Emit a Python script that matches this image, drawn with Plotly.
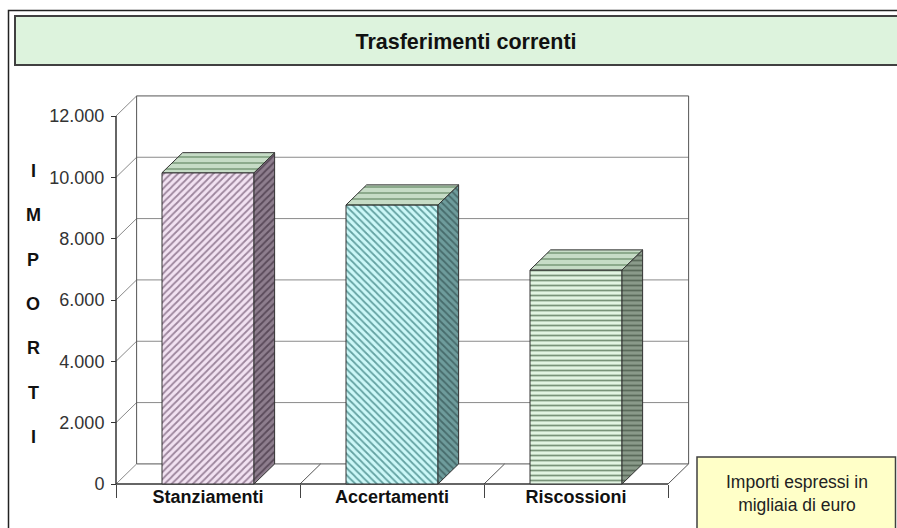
import plotly.graph_objects as go

# ---------------- data ----------------
categories = ["Stanziamenti", "Accertamenti", "Riscossioni"]
values = [10150, 9100, 6980]
y_ticks = [0, 2000, 4000, 6000, 8000, 10000, 12000]
y_title_letters = ["I", "M", "P", "O", "R", "T", "I"]
title_text = "Trasferimenti correnti"
note_lines = ["Importi espressi in", "migliaia di euro"]

# ---------------- styles ----------------
FONT = "Liberation Sans, Arial, sans-serif"
front_styles = [
    dict(shape="/", bg="#F2E2F2", fg="#9C859C"),
    dict(shape="\\", bg="#CCF8F8", fg="#64A2A2"),
    dict(shape="-", bg="#E2F4E2", fg="#7A947A"),
]
side_styles = [
    dict(shape="/", bg="#8E7E8E", fg="#5A4A5A"),
    dict(shape="\\", bg="#6E9C9C", fg="#476B6B"),
    dict(shape="-", bg="#8A9A8A", fg="#5A6A5A"),
]
top_style = dict(shape="-", bg="#C6DCC6", fg="#86A486")
EDGE = "#333333"
GRID = "#8A8A8A"

W, H = 897, 528
# everything below in screen pixel coordinates
AREA_L, AREA_R, AREA_T, AREA_B = 108, 698, 88, 492
X0PX, SX = 116, 184.0            # px of x=-0.5, px per category
Y0PX, SY = 484, 61.33 / 2000.0   # px of y=0, px per unit
BW = 0.5
DX, DY = 0.112, 655
YMAX = y_ticks[-1]

x_range = [-0.5 - (X0PX - AREA_L) / SX, -0.5 + (AREA_R - X0PX) / SX]
y_range = [-(AREA_B - Y0PX) / SY, (Y0PX - AREA_T) / SY]


def px_x(px):
    return (px - AREA_L) / (AREA_R - AREA_L)


def px_y(py):
    return (AREA_B - py) / (AREA_B - AREA_T)


fig = go.Figure()

# front faces
for i, (cat, v) in enumerate(zip(categories, values)):
    st = front_styles[i]
    fig.add_trace(go.Bar(
        x=[i], y=[v], width=BW, showlegend=False, hoverinfo="skip",
        marker=dict(color=st["bg"], line=dict(color=EDGE, width=1),
                    pattern=dict(shape=st["shape"], fgcolor=st["fg"], bgcolor=st["bg"],
                                 size=5, solidity=0.35, fillmode="replace")),
    ))

# side faces and top faces
for i, v in enumerate(values):
    st = side_styles[i]
    xr = i + BW / 2
    fig.add_trace(go.Scatter(
        x=[xr, xr + DX, xr + DX, xr, xr], y=[0, DY, v + DY, v, 0],
        mode="lines", fill="toself", showlegend=False, hoverinfo="skip",
        line=dict(color=EDGE, width=1), fillcolor=st["bg"],
        fillpattern=dict(shape=st["shape"], fgcolor=st["fg"], bgcolor=st["bg"],
                         size=5, solidity=0.35, fillmode="replace"),
    ))
    xl = i - BW / 2
    fig.add_trace(go.Scatter(
        x=[xl, xl + DX, xr + DX, xr, xl], y=[v, v + DY, v + DY, v, v],
        mode="lines", fill="toself", showlegend=False, hoverinfo="skip",
        line=dict(color=EDGE, width=1), fillcolor=top_style["bg"],
        fillpattern=dict(shape=top_style["shape"], fgcolor=top_style["fg"],
                         bgcolor=top_style["bg"], size=6, solidity=0.3, fillmode="replace"),
    ))

shapes = []
# back wall gridlines + left wall diagonals
for v in y_ticks:
    shapes.append(dict(type="line", xref="x", yref="y", x0=-0.5 + DX, y0=v + DY,
                       x1=len(categories) - 0.5 + DX, y1=v + DY,
                       line=dict(color=GRID if v not in (0, YMAX) else "#555", width=1), layer="below"))
    shapes.append(dict(type="line", xref="x", yref="y", x0=-0.5, y0=v, x1=-0.5 + DX, y1=v + DY,
                       line=dict(color=GRID, width=1), layer="below"))
# back wall verticals
for xb in (-0.5 + DX, len(categories) - 0.5 + DX):
    shapes.append(dict(type="line", xref="x", yref="y", x0=xb, y0=DY, x1=xb, y1=YMAX + DY,
                       line=dict(color="#555", width=1), layer="below"))
# floor diagonals at category boundaries
for b in [k - 0.5 for k in range(1, len(categories) + 1)]:
    shapes.append(dict(type="line", xref="x", yref="y", x0=b, y0=0, x1=b + DX, y1=DY,
                       line=dict(color="#555", width=1), layer="below"))
# front floor edge and front y axis line
shapes.append(dict(type="line", xref="x", yref="y", x0=-0.5, y0=0, x1=len(categories) - 0.5, y1=0,
                   line=dict(color="#333", width=1.5), layer="below"))
shapes.append(dict(type="line", xref="x", yref="y", x0=-0.5, y0=0, x1=-0.5, y1=YMAX,
                   line=dict(color="#333", width=1.5), layer="below"))

# frame, title box, note box (paper)
shapes.append(dict(type="rect", xref="paper", yref="paper", x0=px_x(8.5), y0=px_y(560),
                   x1=px_x(930), y1=px_y(10.5), line=dict(color="#222", width=1.5),
                   fillcolor="rgba(0,0,0,0)", layer="below"))
shapes.append(dict(type="rect", xref="paper", yref="paper", x0=px_x(15), y0=px_y(65),
                   x1=px_x(930), y1=px_y(16), line=dict(color="#404040", width=2),
                   fillcolor="#DDF3DD", layer="below"))
shapes.append(dict(type="rect", xref="paper", yref="paper", x0=px_x(697), y0=px_y(540),
                   x1=px_x(895.5), y1=px_y(457), line=dict(color="#404040", width=1.5),
                   fillcolor="#FFFFC8", layer="below"))

annotations = []
for k, letter in enumerate(y_title_letters):
    annotations.append(dict(xref="paper", yref="paper", x=px_x(33), y=px_y(171 + 44.3 * k),
                            text=f"<b>{letter}</b>", showarrow=False, xanchor="center",
                            yanchor="middle", font=dict(family=FONT, size=18, color="#111")))
annotations.append(dict(xref="paper", yref="paper", x=px_x(797), y=px_y(493),
                        text="<br>".join(note_lines), showarrow=False, xanchor="center",
                        yanchor="middle", align="center",
                        font=dict(family=FONT, size=17.5, color="#222")))

fig.update_layout(
    width=W, height=H,
    margin=dict(l=AREA_L, r=W - AREA_R, t=AREA_T, b=H - AREA_B, pad=0),
    paper_bgcolor="white", plot_bgcolor="rgba(0,0,0,0)",
    separators=",.",
    showlegend=False,
    bargap=0,
    title=dict(text=f"<b>{title_text}</b>", xref="container", yref="container",
               x=466 / W, y=1 - 41 / H, xanchor="center", yanchor="middle",
               font=dict(family=FONT, size=21.5, color="#111")),
    xaxis=dict(range=x_range, tickvals=list(range(len(categories))), ticktext=[f"<b>{c}</b>" for c in categories],
               ticks="", showgrid=False, zeroline=False, showline=False,
               anchor="free", position=px_y(Y0PX),
               tickfont=dict(family=FONT, size=18, color="#111"),
               minor=dict(tickvals=[k - 0.5 for k in range(len(categories) + 1)], ticks="outside",
                          ticklen=13, tickcolor="#444", tickwidth=1, showgrid=False)),
    yaxis=dict(range=y_range, tickvals=y_ticks, tickformat=",d", ticks="outside", ticklen=5,
               tickcolor="#333", showgrid=False, zeroline=False, showline=False,
               anchor="free", position=px_x(X0PX), ticklabelstandoff=3,
               tickfont=dict(family=FONT, size=18, color="#333")),
    annotations=annotations,
    shapes=shapes,
)

fig.write_html("out.html", config={"displayModeBar": False, "staticPlot": True},
               post_script="document.body.style.margin='0';document.body.style.overflow='hidden';")
